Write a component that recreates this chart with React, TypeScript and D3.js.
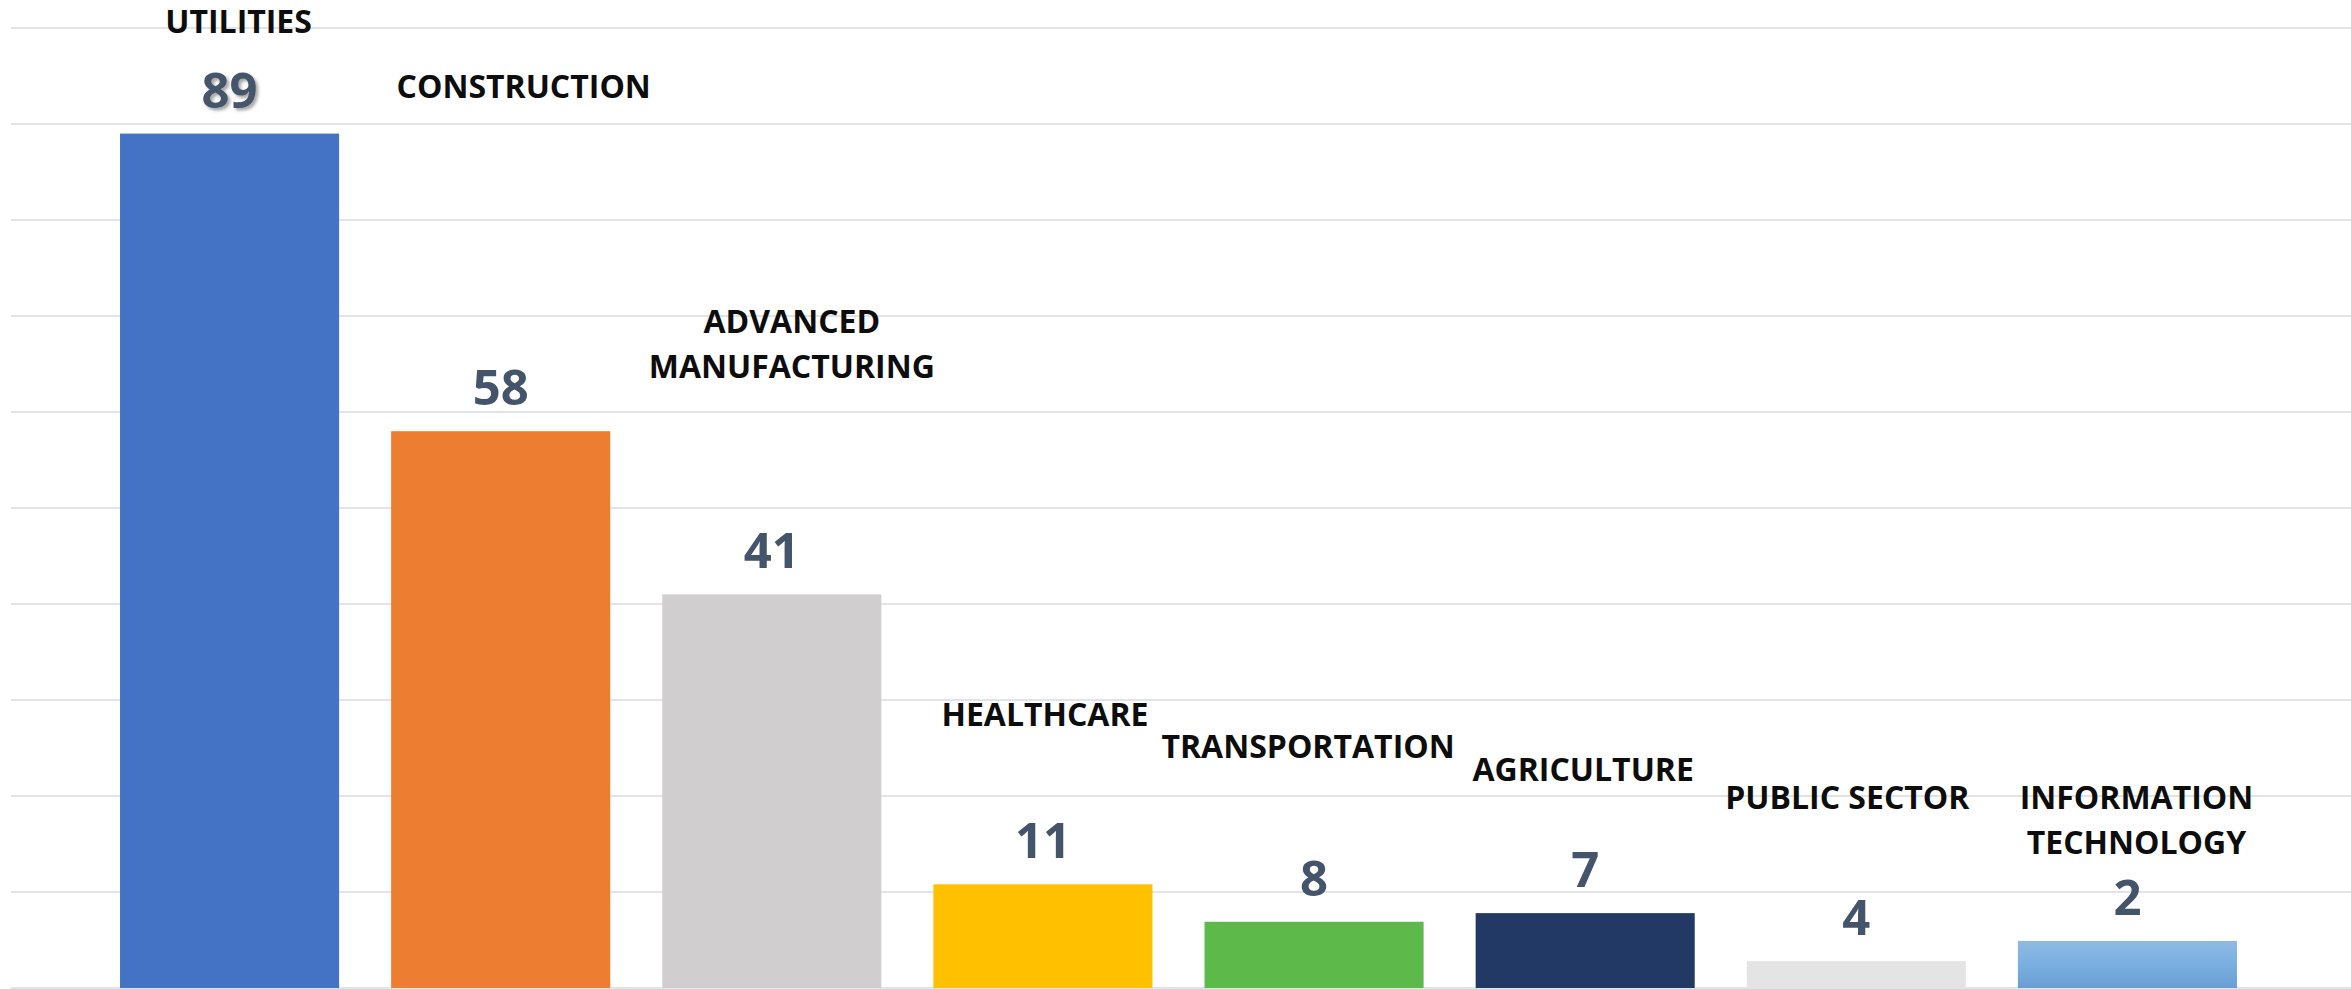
import React from 'react';
import * as d3 from 'd3';

// chart data
const categories = [
    'UTILITIES',
    'CONSTRUCTION',
    'ADVANCED MANUFACTURING',
    'HEALTHCARE',
    'TRANSPORTATION',
    'AGRICULTURE',
    'PUBLIC SECTOR',
    'INFORMATION TECHNOLOGY',
];
const labelValues = [89, 58, 41, 11, 8, 7, 4, 2];
// bar heights as drawn (small bars do not follow their labels exactly)
const barValues = [89, 58, 41, 10.8, 6.9, 7.8, 2.8, 4.9];
const gridTicks = [0, 10, 20, 30, 40, 50, 60, 70, 80, 90, 100];

// category names were dragged around by hand: [x shift in px, baseline level in value units]
const namePlacement: [number, number][] = [
    [9, 99.5],
    [23, 92.7],
    [20, 68.2],
    [2, 27.3],
    [-6, 24.0],
    [-2, 21.6],
    [-9, 18.6],
    [9, 18.6],
];
const nameLines: Record<string, string[]> = {
    'ADVANCED MANUFACTURING': ['ADVANCED', 'MANUFACTURING'],
    'INFORMATION TECHNOLOGY': ['INFORMATION', 'TECHNOLOGY'],
};

const colors = ['#4472c4', '#ed7d31', '#d0cece', '#ffc000', '#5eb94b', '#213964', '#e4e4e4', 'url(#itFill)'];

const width = 2351;
const height = 989;
const font = "'Liberation Sans Narrow', 'Open Sans', sans-serif";

export default function App() {
    const x = d3.scaleBand<string>()
        .domain(categories)
        .range([94, 2263])
        .paddingInner(0.192)
        .paddingOuter(0.096);
    const y = d3.scaleLinear().domain([0, 100]).range([988, 28]);

    return (
        <svg width={width} height={height} style={{ position: 'absolute', left: 0, top: 0, display: 'block', background: '#fff' }}>
            <defs>
                <linearGradient id="itFill" x1="0" y1="0" x2="0" y2="1">
                    <stop offset="0" stopColor="#8fb9e3" />
                    <stop offset="0.5" stopColor="#7aafe1" />
                    <stop offset="1" stopColor="#6a9ed3" />
                </linearGradient>
                <filter id="shadow" x="-20%" y="-20%" width="150%" height="150%">
                    <feDropShadow dx="2.5" dy="2.5" stdDeviation="1.5" floodColor="#000" floodOpacity="0.35" />
                </filter>
            </defs>
            <g>
                {gridTicks.map(t => (
                    <line key={t} x1={11} x2={width} y1={y(t)} y2={y(t)} stroke="#e1e5eb" strokeWidth={2} />
                ))}
            </g>
            <g>
                {categories.map((c, i) => (
                    <rect key={c} x={x(c)} y={y(barValues[i])} width={x.bandwidth()}
                        height={y(0) - y(barValues[i])} fill={colors[i]} />
                ))}
            </g>
            <g fontFamily={font} fontWeight="bold" textAnchor="middle">
                {categories.map((c, i) => (
                    <text key={c} x={x(c)! + x.bandwidth() / 2} y={y(barValues[i]) - 26}
                        fontSize={49} fill="#44546a" filter={i === 0 ? 'url(#shadow)' : undefined}>
                        {labelValues[i]}
                    </text>
                ))}
            </g>
            <g fontFamily={font} fontWeight="bold" textAnchor="middle" fontSize={32} fill="#0d0d0d">
                {categories.map((c, i) => {
                    const [dx, level] = namePlacement[i];
                    const lines = nameLines[c] ?? [c];
                    const cx = x(c)! + x.bandwidth() / 2 + dx;
                    return (
                        <text key={c} x={cx} y={y(level)}>
                            {lines.map((l, k) => (
                                <tspan key={k} x={cx} dy={k === 0 ? 0 : 45}>{l}</tspan>
                            ))}
                        </text>
                    );
                })}
            </g>
        </svg>
    );
}
